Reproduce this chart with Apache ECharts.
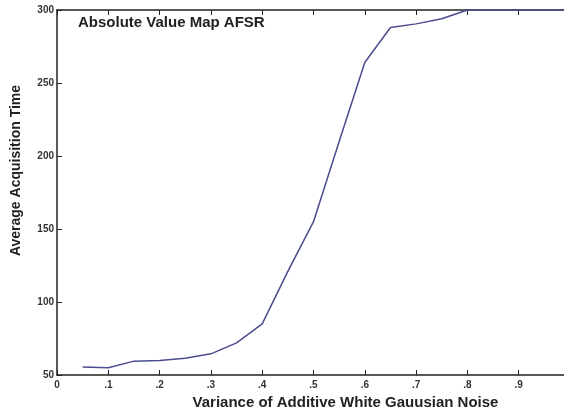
<!DOCTYPE html>
<html>
<head>
<meta charset="utf-8">
<script src="https://cdn.jsdelivr.net/npm/echarts@6/dist/echarts.min.js"></script>
<style>
html,body{margin:0;padding:0;background:#fff;}
#chart{width:564px;height:413px;}
</style>
</head>
<body>
<div id="chart"></div>
<script>
const noiseVariance = [0.05, 0.10, 0.15, 0.20, 0.25, 0.30, 0.35, 0.40, 0.45, 0.50, 0.55, 0.60, 0.65, 0.70, 0.75, 0.80, 0.85, 0.90, 0.95, 1.00];
const acquisitionTime = [55.5, 55, 59.5, 60, 61.5, 64.5, 72, 85, 121, 155, 210, 264, 288, 290.5, 294, 300, 300, 300, 300, 300];
const xTickLabels = ['0', '.1', '.2', '.3', '.4', '.5', '.6', '.7', '.8', '.9', ''];
const yTicks = [50, 100, 150, 200, 250, 300];

const chart = echarts.init(document.getElementById('chart'));
const font = 'Liberation Sans, Arial, sans-serif';
const axisLine = {lineStyle: {color: '#222', width: 1.5}};
chart.setOption({
  animation: false,
  backgroundColor: '#fff',
  title: {
    text: 'Absolute Value Map AFSR',
    left: 73, top: 10,
    textStyle: {fontFamily: font, fontSize: 15, fontWeight: 'bold', color: '#222'}
  },
  grid: {left: 57, top: 10, right: -6, bottom: 38, containLabel: false, outerBoundsMode: 'none'},
  xAxis: [{
    type: 'value', min: 0, max: 1, interval: 0.1,
    axisLine: axisLine,
    axisTick: {inside: true, length: 5, lineStyle: {color: '#222', width: 1}},
    splitLine: {show: false},
    axisLabel: {
      fontFamily: font, fontSize: 10, fontWeight: 'bold', color: '#333', margin: 5,
      formatter: function (v) { return xTickLabels[Math.round(v * 10)]; }
    },
    name: 'Variance of Additive White Gauusian Noise',
    nameLocation: 'middle', nameGap: 18,
    nameTextStyle: {fontFamily: font, fontSize: 15, fontWeight: 'bold', color: '#222', padding: [0, 0, 0, 64]}
  }, {
    type: 'value', min: 0, max: 1, interval: 0.1, position: 'top',
    axisLine: axisLine,
    axisTick: {inside: true, length: 5, lineStyle: {color: '#222', width: 1}},
    axisLabel: {show: false},
    splitLine: {show: false}
  }],
  yAxis: [{
    type: 'value', min: yTicks[0], max: yTicks[yTicks.length - 1], interval: 50,
    axisLine: axisLine,
    axisTick: {inside: true, length: 5, lineStyle: {color: '#222', width: 1}},
    splitLine: {show: false},
    axisLabel: {fontFamily: font, fontSize: 10, fontWeight: 'bold', color: '#333', margin: 3},
    name: 'Average Acquisition Time',
    nameLocation: 'middle', nameGap: 34, nameRotate: 90,
    nameTextStyle: {fontFamily: font, fontSize: 14, fontWeight: 'bold', color: '#222', padding: [0, 0, 0, 44]}
  }],
  series: [{
    type: 'line',
    data: noiseVariance.map((x, i) => [x, acquisitionTime[i]]),
    showSymbol: false,
    lineStyle: {color: '#4a4c8e', width: 1.5},
    clip: false
  }]
});
</script>
</body>
</html>
